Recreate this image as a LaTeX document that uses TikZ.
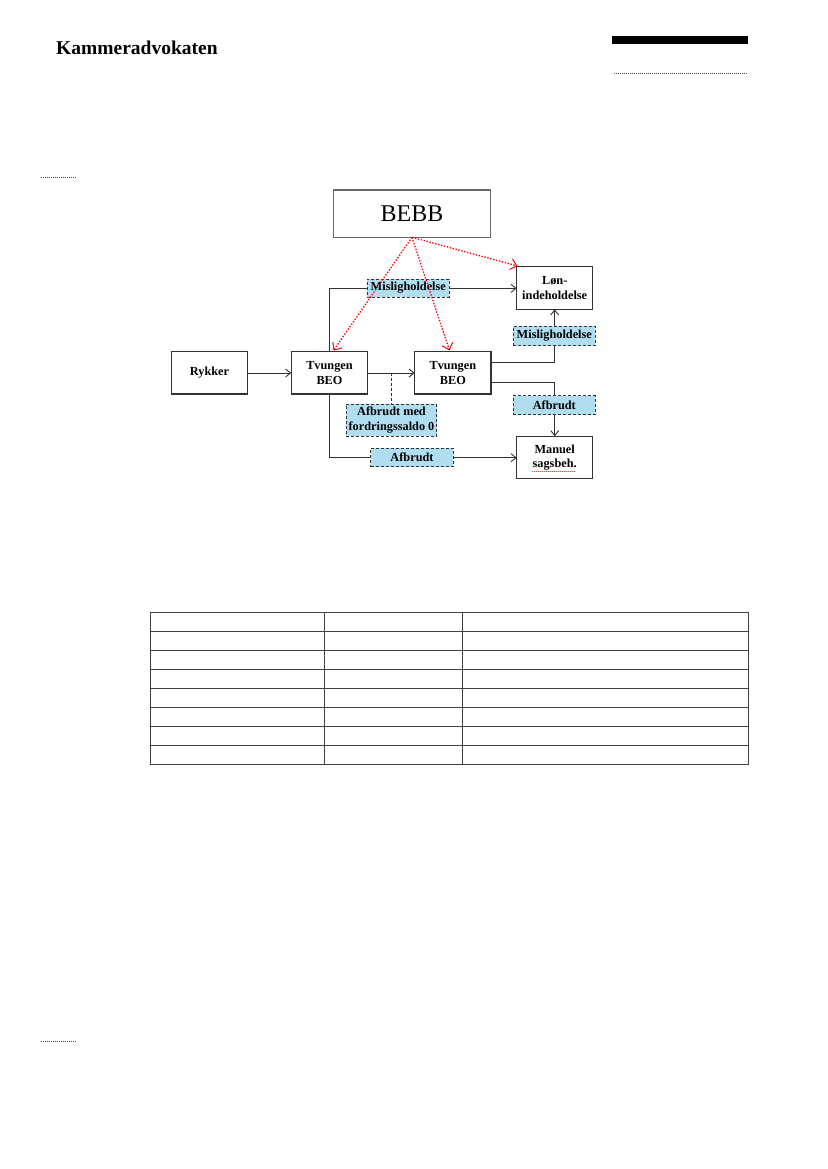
\documentclass[tikz,border=0pt]{standalone}
\usepackage{fontspec}
\setmainfont{Liberation Serif}
\usetikzlibrary{arrows.meta}
\definecolor{lblue}{HTML}{B0DDF0}
\definecolor{lineg}{HTML}{333333}
\tikzset{
  px/.style={x=1pt,y=-1pt},
  flowbox/.style={draw=lineg,line width=1.1pt,fill=white,align=center,inner sep=0pt,font=\fontsize{12.3}{14.5}\selectfont\bfseries},
  tagbox/.style={draw=lineg,dash pattern=on 3pt off 2pt,line width=1pt,fill=lblue,align=center,inner sep=0pt,font=\fontsize{12.3}{14.5}\selectfont\bfseries},
  conn/.style={draw=lineg,line width=1pt},
  connarrow/.style={conn,-{Straight Barb[length=5pt,width=8pt,line width=0.9pt]}},
  redarrow/.style={draw=red,line width=1.3pt,dash pattern=on 1.4pt off 1.6pt,-{Straight Barb[length=6pt,width=11pt,line width=1pt,sep=0pt]}},
  marker/.style={draw=black!70,line width=0.8pt,dash pattern=on 1pt off 1pt},
  tabline/.style={draw=black!75,line width=1pt},
}
\newcommand{\boxat}[7]{\node[#1,minimum width=#5pt-#3pt,minimum height=#6pt-#4pt] (#2) at ({(#3+#5)/2},{(#4+#6)/2}) {#7};}
\begin{document}
\begin{tikzpicture}[px]
\useasboundingbox (0,0) rectangle (827,1169);
\node[anchor=base west,inner sep=0pt,font=\fontsize{19.5}{24}\selectfont\bfseries] (title) at (56,55) {Kammeradvokaten};
\fill[black] (612,36) rectangle (748,44);
\draw[marker] (614,73) -- (748,73);
\draw[marker] (41,177) -- (77,177);
\draw[marker] (41,1041) -- (77,1041);
% table
\foreach \yy in {612.3,631.3,650.3,669.3,688.3,707.3,726.3,745.6,764.6}
  \draw[tabline] (150,\yy) -- (748.5,\yy);
\foreach \xx in {150,324.5,462.5,748.5}
  \draw[tabline] (\xx,612.3) -- (\xx,764.6);
% nodes
\boxat{flowbox,draw=black!60,font=\fontsize{24}{28}\selectfont}{bebb}{333.3}{190}{490.7}{237.3}{BEBB}
\boxat{flowbox}{rykker}{171.3}{351.7}{247.7}{394}{Rykker}
\boxat{flowbox}{tvone}{291.3}{351.7}{367.7}{394}{Tvungen\\BEO}
\boxat{flowbox}{tvtwo}{414.7}{351.7}{491}{394}{Tvungen\\BEO}
\boxat{flowbox}{lon}{516.7}{266.7}{592.7}{309.3}{Løn-\\indeholdelse}
\boxat{flowbox}{manuel}{516.7}{436.3}{592.7}{478.7}{Manuel\\sagsbeh.}
% connector waypoints
\coordinate (tvoneA) at (329.5,351.7);
\coordinate (lonA) at (516.7,288.3);
\coordinate (tvoneB) at (329.5,394);
\coordinate (manA) at (516.7,457.7);
\coordinate (twoA) at (491,362.7);
\coordinate (lonB) at (554.7,309.3);
\coordinate (twoB) at (491,382.7);
\coordinate (manB) at (554.7,436.3);
\coordinate (ryk) at (247.7,373);
\coordinate (oneR) at (291.3,373);
\coordinate (oneQ) at (367.7,373);
\coordinate (twoL) at (414.7,373);
\coordinate (dash) at (391.5,373);
\coordinate (bebbS) at (412,237.3);
\coordinate (lonT) at (517.5,266);
\coordinate (oneT) at (333.5,350.5);
\coordinate (twoT) at (449.5,350.5);
\draw[connarrow] (tvoneA) -- (tvoneA|-lonA) -- (lonA);
\draw[connarrow] (tvoneB) -- (tvoneB|-manA) -- (manA);
\draw[connarrow] (twoA) -- (lonB|-twoA) -- (lonB);
\draw[connarrow] (twoB) -- (manB|-twoB) -- (manB);
\draw[connarrow] (ryk) -- (oneR);
\draw[connarrow] (oneQ) -- (twoL);
\boxat{tagbox}{misone}{367.3}{279}{449.3}{297}{Misligholdelse}
\boxat{tagbox}{mistwo}{513.3}{326.3}{595.3}{345.7}{Misligholdelse}
\boxat{tagbox}{afright}{513.3}{395.7}{595.3}{414.7}{Afbrudt}
\boxat{tagbox}{afmed}{346.3}{404}{436.7}{436.3}{Afbrudt med\\fordringssaldo 0}
\boxat{tagbox}{aflow}{370.7}{448.3}{453.3}{466.7}{Afbrudt}
\draw[conn,dash pattern=on 3pt off 2pt] (dash) -- (dash|-afmed.north);
\draw[redarrow] (bebbS) -- (lonT);
\draw[redarrow] (bebbS) -- (oneT);
\draw[redarrow] (bebbS) -- (twoT);
\draw[red!70,line width=0.5pt,dash pattern=on 1pt off 1pt] (532,471) -- (575,471);
\end{tikzpicture}
\end{document}
